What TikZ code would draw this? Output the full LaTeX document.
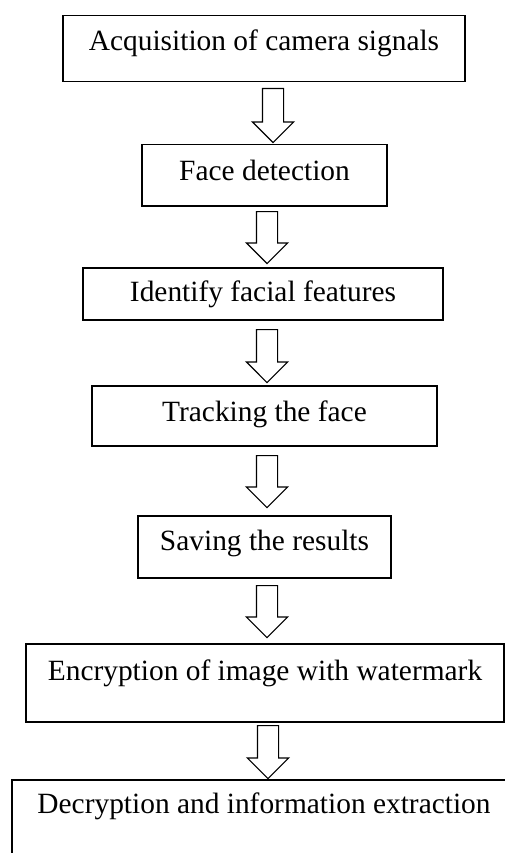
\documentclass[tikz,border=0pt]{standalone}
\usepackage{fontspec}
\setmainfont{Liberation Serif}
\usetikzlibrary{shapes.arrows}

\begin{document}
\begin{tikzpicture}[x=1pt, y=-1pt,
  stepbox/.style={draw, line width=1.5pt, inner sep=0pt, anchor=north,
    font=\fontsize{29.4}{35}\selectfont},
  downarrow/.style={single arrow, draw, line width=1.2pt, rotate=-90,
    anchor=tail, inner sep=0pt, text height=20pt, text depth=0pt,
    single arrow head extend=10pt, single arrow tip angle=90}]
  \clip (0, 0) rectangle (505, 853);

  % the steps, top to bottom
  \node[stepbox, minimum width=402pt, text height=35pt, text depth=31pt] (acq) at (264, 15) {Acquisition of camera signals};
  \node[stepbox, minimum width=245pt, text height=36pt, text depth=25pt] (detect) at (264.5, 144) {Face detection};
  \node[stepbox, minimum width=360pt, text height=34pt, text depth=18pt] (features) at (263, 267) {Identify facial features};
  \node[stepbox, minimum width=345pt, text height=36pt, text depth=24pt] (track) at (264.5, 385) {Tracking the face};
  \node[stepbox, minimum width=253pt, text height=35pt, text depth=27pt] (save) at (264.5, 515) {Saving the results};
  \node[stepbox, minimum width=478pt, text height=37pt, text depth=41pt] (encrypt) at (265, 643) {Encryption of image with watermark};
  \node[stepbox, minimum width=504pt, text height=34pt, text depth=60pt] (decrypt) at (264, 779) {Decryption and information extraction};

  % hollow arrows in between
  \node[downarrow, minimum height=54pt] (a1) at (273, 88) {};
  \node[downarrow, minimum height=52pt] (a2) at (267, 211) {};
  \node[downarrow, minimum height=53pt] (a3) at (267, 329) {};
  \node[downarrow, minimum height=52pt] (a4) at (267, 455) {};
  \node[downarrow, minimum height=52pt] (a5) at (267, 585) {};
  \node[downarrow, minimum height=53pt] (a6) at (268, 725) {};
\end{tikzpicture}
\end{document}
